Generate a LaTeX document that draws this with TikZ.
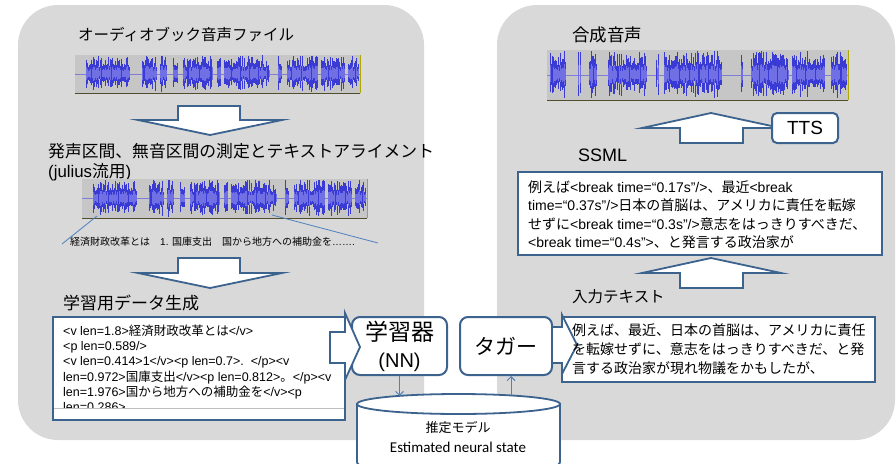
\documentclass[tikz,border=0pt]{standalone}
\usepackage{fontspec}
\setmainfont{Liberation Sans}
\newfontfamily\jpfont{Noto Sans CJK JP}
\newfontfamily\calfont{Carlito}
\usetikzlibrary{calc}
\usetikzlibrary{arrows.meta}

% kana and kanji are set in the Japanese font
\XeTeXinterchartokenstate=1
\newXeTeXintercharclass\jpclass
\newcount\jpcode
\jpcode="3000
\loop\XeTeXcharclass\jpcode=\jpclass\ifnum\jpcode<"30FF\advance\jpcode by 1\repeat
\jpcode="4E00
\loop\XeTeXcharclass\jpcode=\jpclass\ifnum\jpcode<"9FFF\advance\jpcode by 1\repeat
\jpcode="FF00
\loop\XeTeXcharclass\jpcode=\jpclass\ifnum\jpcode<"FFEF\advance\jpcode by 1\repeat
\XeTeXinterchartoks 0 \jpclass = {\jpfont}
\XeTeXinterchartoks 4095 \jpclass = {\jpfont}
\XeTeXinterchartoks \jpclass 0 = {\normalfont}
\XeTeXinterchartoks \jpclass 4095 = {\normalfont}

\definecolor{cpanel}{RGB}{217,217,217}
\definecolor{cbord}{RGB}{60,98,142}
\definecolor{clink}{RGB}{79,129,189}
\definecolor{cwavebg}{RGB}{198,198,198}
\definecolor{cwave}{RGB}{58,58,212}
\definecolor{cwavein}{RGB}{112,112,228}
\definecolor{cwavemid}{RGB}{125,125,215}

% waveform strip: x, y (top left), width, height, seed, bursts
\newcommand{\wavebox}[6]{%
  \fill[cwavebg] (#1,#2) rectangle ++(#3,#4);
  \draw[cwavemid, line width=0.6pt] (#1,#2+#4/2) -- ++(#3,0);
  \pgfmathsetseed{#5}
  \foreach \ba/\bb in {#6}{
    \pgfmathtruncatemacro{\nn}{max(1,(\bb-\ba)*#3/0.9)}
    \foreach \k in {0,...,\nn}{
      \pgfmathsetmacro{\wx}{#1+(\ba+(\bb-\ba)*\k/\nn)*#3}
      \pgfmathsetmacro{\wamp}{#4*0.49*(0.35+0.65*rnd)}
      \pgfmathsetmacro{\wampb}{\wamp*(0.7+0.3*rnd)}
      \draw[cwave, line width=0.8pt] (\wx,#2+#4/2-\wamp) -- (\wx,#2+#4/2+\wampb);
      \draw[cwavein, line width=0.6pt] (\wx,#2+#4/2-0.45*\wamp) -- (\wx,#2+#4/2+0.45*\wampb);
    }
  }
  \draw[black!55!olive, line width=0.8pt] (#1,#2+#4) -- ++(#3,0);
  \draw[olive!70!yellow, line width=0.8pt] (#1+#3,#2) -- ++(0,#4);
}

\begin{document}
\begin{tikzpicture}[x=1pt, y=-1pt,
  heading/.style={anchor=west, inner sep=0pt},
  boxtext/.style={anchor=north west, inner sep=0pt, align=left},
  textbox/.style={draw=cbord, line width=1.2pt, fill=white},
  bigarrow/.style={draw=cbord, line width=1.8pt, fill=white, line join=miter},
  roundbox/.style={draw=cbord, line width=2pt, fill=white, rounded corners=8pt},
  thinarrow/.style={-{Straight Barb[length=4pt,width=8pt]}, draw=clink, line width=1pt},
  link/.style={draw=clink, line width=0.8pt},
  model/.style={draw=cbord, line width=1.8pt, fill=white}]
  \useasboundingbox (0,0) rectangle (896,463);
  \clip (0,0) rectangle (896,463);

  % panels
  \fill[cpanel, rounded corners=40pt] (18,5) rectangle (424,440);
  \fill[cpanel, rounded corners=40pt] (497,5) rectangle (895,440);

  % left: audio book to training data
  \node[heading, font=\fontsize{15.5}{18}\selectfont] (audio) at (78,35) {オーディオブック音声ファイル};
  \wavebox{75}{55}{285}{38}{11}{0.040/0.190,0.235/0.285,0.300/0.320,0.345/0.360,0.380/0.480,0.500/0.510,0.525/0.680,0.715/0.725,0.745/0.850,0.865/0.945,0.960/0.995}
  \draw[bigarrow] (178,106) -- (240,106) -- (240,120) -- (282,120) -- (210,135) -- (138,120) -- (178,120) -- cycle;
  \node[heading, align=left, font=\fontsize{16.8}{20}\selectfont] (align) at (48,162) {発声区間、無音区間の測定とテキストアライメント\\(julius流用)};
  \wavebox{82}{179}{285}{39}{11}{0.040/0.190,0.235/0.285,0.300/0.320,0.345/0.360,0.380/0.480,0.500/0.510,0.525/0.680,0.715/0.725,0.745/0.850,0.865/0.945,0.960/0.995}
  \coordinate (wavea) at (97,216);
  \coordinate (wavez) at (272,215);
  \coordinate (sega) at (62,244);
  \coordinate (segz) at (378,243);
  \draw[link] (wavea) -- (sega);
  \draw[link] (wavez) -- (segz);
  \node[heading, font=\fontsize{10}{12}\selectfont] (segments) at (70,242) {経済財政改革とは\quad 1. 国庫支出\quad 国から地方への補助金を…….};
  \draw[bigarrow] (178,258) -- (240,258) -- (240,273) -- (282,273) -- (210,288) -- (138,273) -- (178,273) -- cycle;
  \node[heading, font=\fontsize{17}{20}\selectfont] (datagen) at (63,303) {学習用データ生成};
  \node[textbox, minimum width=292pt, minimum height=103pt] (databox) at (199,368.5) {};
  \node[boxtext, font=\fontsize{12.5}{15.3}\selectfont] (datatext) at (63,324.5) {<v len=1.8>経済財政改革とは</v>\\<p len=0.589/>\\<v len=0.414>1</v><p len=0.7>.\ \ </p><v\\len=0.972>国庫支出</v><p len=0.812>。</p><v\\len=1.976>国から地方への補助金を</v><p\\len=0.286>、};
  \fill[white] (54,409) rectangle (344,419.4);
  \draw[black!25, line width=0.6pt] (54,408) -- (344,408);

  % learner, model and tagger
  \node[roundbox, minimum width=95pt, minimum height=58pt, align=center, font=\fontsize{23}{27}\selectfont] (learner) at (399.5,346) {学習器\\{\fontsize{20}{27}\selectfont(NN)}};
  \draw[bigarrow] (330,332) -- (345,332) -- (345,313) -- (360,347) -- (345,380) -- (345,363) -- (330,363) -- cycle;
  \filldraw[model] (357,404) -- (357,462) .. controls (357,470) and (400,472) .. (458.5,472) .. controls (517,472) and (560,470) .. (560,462) -- (560,404) -- cycle;
  \filldraw[model] (458.5,404) ellipse [x radius=101.5, y radius=10];
  \node[inner sep=0pt, font=\fontsize{13}{15}\selectfont] (modelja) at (458,428) {推定モデル};
  \node[inner sep=0pt, font=\calfont\fontsize{15}{17}\selectfont] (modelen) at (458,447) {Estimated neural state};
  \node[roundbox, minimum width=92pt, minimum height=58pt, font=\fontsize{21}{25}\selectfont] (tagger) at (506,346) {タガー};
  \coordinate (mtopl) at (399.5,396);
  \coordinate (mtopr) at (511,395);
  \draw[thinarrow] (learner.south) -- (mtopl);
  \draw[thinarrow] (mtopr) -- (mtopr |- tagger.south);

  % right: input text to synthetic speech
  \node[textbox, minimum width=313pt, minimum height=65pt] (inbox) at (718.5,349.5) {};
  \draw[bigarrow] (552,327) -- (562,327) -- (562,315) -- (577,345) -- (562,374) -- (562,363) -- (552,363) -- cycle;
  \node[boxtext, font=\fontsize{14}{19}\selectfont] (intext) at (572,323.7) {例えば、最近、日本の首脳は、アメリカに責任\\を転嫁せずに、意志をはっきりすべきだ、と発\\言する政治家が現れ物議をかもしたが、};
  \node[heading, font=\fontsize{15.5}{18}\selectfont] (input) at (572,297) {入力テキスト};
  \draw[bigarrow] (680,288) -- (680,273) -- (642,273) -- (711,258) -- (781,273) -- (743,273) -- (743,288) -- cycle;
  \node[textbox, minimum width=364pt, minimum height=83pt] (ssmlbox) at (700,213.5) {};
  \node[boxtext, font=\fontsize{14}{18.3}\selectfont] (ssmltext) at (528,180.7) {例えば<break time=“0.17s”/>、最近<break\\time=“0.37s”/>日本の首脳は、アメリカに責任を転嫁\\せずに<break time=“0.3s”/>意志をはっきりすべきだ、\\<break time=“0.4s”>、と発言する政治家が};
  \node[heading, font=\fontsize{18}{21}\selectfont] (ssml) at (578,155) {SSML};
  \draw[bigarrow] (680,143) -- (680,128) -- (642,128) -- (711,113) -- (781,128) -- (743,128) -- (743,143) -- cycle;
  \node[roundbox, rounded corners=5pt, minimum width=66pt, minimum height=30pt, font=\fontsize{19}{22}\selectfont] (tts) at (805,128) {TTS};
  \wavebox{547}{50}{301}{50}{7}{0.010/0.060,0.105/0.110,0.140/0.165,0.205/0.330,0.365/0.370,0.390/0.580,0.645/0.650,0.680/0.800,0.815/0.920,0.945/0.995}
  \node[heading, font=\fontsize{17.5}{20}\selectfont] (synth) at (572,35) {合成音声};
\end{tikzpicture}
\end{document}
